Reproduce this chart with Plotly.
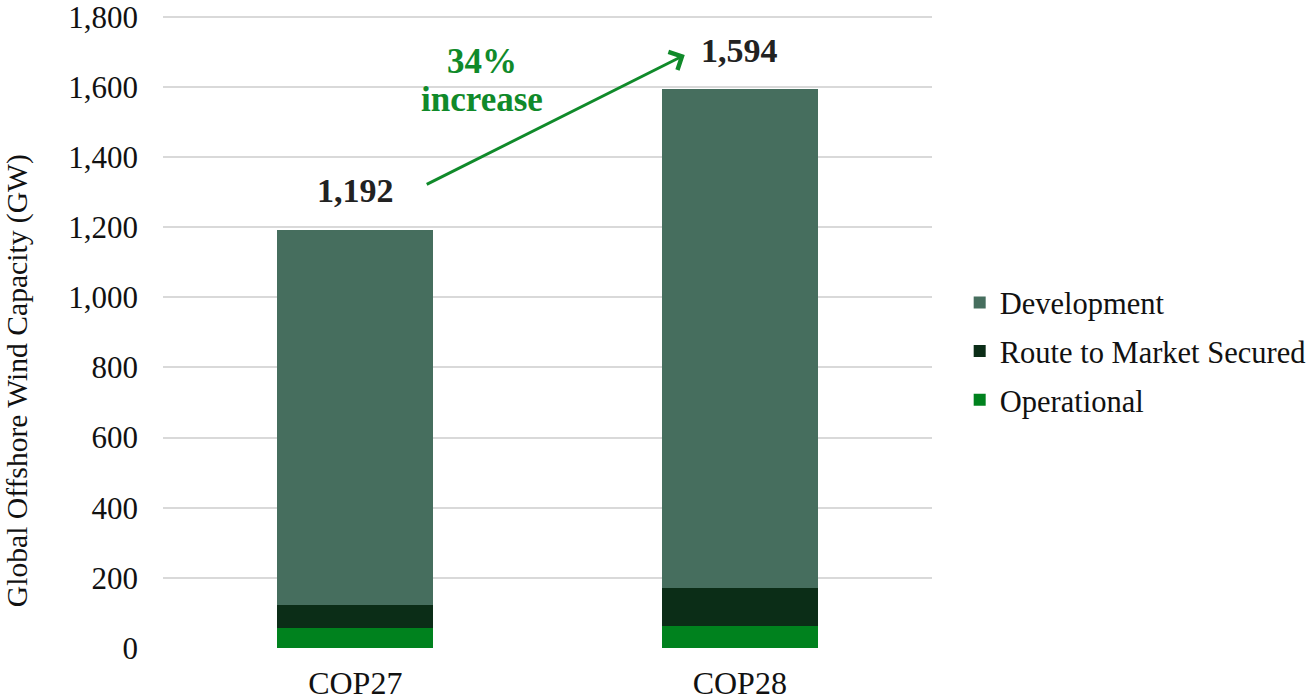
import plotly.graph_objects as go

categories = ["COP27", "COP28"]
operational = [57, 62]
route_to_market = [66, 110]
development = [1069, 1422]
totals = [1192, 1594]
total_labels = ["1,192", "1,594"]
y_ticks = list(range(0, 1801, 200))

series = [
    ("Operational", operational, "#00821E", 3),
    ("Route to Market Secured", route_to_market, "#0B2D17", 2),
    ("Development", development, "#466E5E", 1),
]

FONT = "Liberation Serif"
GREEN = "#108A2A"

fig = go.Figure()
for name, vals, color, rank in series:
    fig.add_trace(go.Bar(
        x=categories, y=vals, name=name, legendgroup=name, legendrank=rank,
        marker=dict(color=color, line=dict(width=0)),
        width=0.405,
    ))

for cat, tot, lab in zip(categories, totals, total_labels):
    fig.add_annotation(x=cat, y=tot, text=f"<b>{lab}</b>", showarrow=False,
                       yshift=39, font=dict(family=FONT, size=34, color="#222222"))

fig.add_annotation(x=0.857, y=1691, ax=0.182, ay=1320, xref="x", yref="y",
                   axref="x", ayref="y", text="", showarrow=True,
                   arrowhead=4, arrowsize=1.3, arrowwidth=3, arrowcolor=GREEN)
fig.add_annotation(x=0.33, y=1671, xref="x", yref="y",
                   text="<b>34%</b>", showarrow=False,
                   font=dict(family=FONT, size=35, color=GREEN))
fig.add_annotation(x=0.33, y=1563, xref="x", yref="y",
                   text="<b>increase</b>", showarrow=False,
                   font=dict(family=FONT, size=35, color=GREEN))

# y-axis title (placed lower than centre, as in the reference)
fig.add_annotation(x=-0.19, y=0.423, xref="paper", yref="paper",
                   text="Global Offshore Wind Capacity (GW)", textangle=-90,
                   showarrow=False, xanchor="center", yanchor="middle",
                   font=dict(family=FONT, size=29.6, color="#111111"))

fig.update_layout(
    width=1306, height=700,
    barmode="stack",
    paper_bgcolor="white", plot_bgcolor="white",
    margin=dict(l=163, r=374, t=15, b=52, autoexpand=False),
    font=dict(family=FONT, size=30, color="#111111"),
    legend=dict(x=1.036, y=0.469, xanchor="left", yanchor="middle",
                traceorder="grouped", font=dict(size=30.5),
                itemsizing="constant", tracegroupgap=6, itemwidth=30),
    bargap=0.595,
    showlegend=True,
)
fig.update_yaxes(range=[0, 1805], tickvals=y_ticks,
                 tickformat=",", gridcolor="#D9D9D9",
                 gridwidth=1.5, zeroline=False, showline=False, ticks="",
                 ticklabelstandoff=24, automargin=False,
                 ticklabeloverflow="allow",
                 tickfont=dict(size=31))
fig.update_xaxes(showline=False, ticks="", showgrid=False, automargin=False,
                 ticklabelstandoff=13, tickfont=dict(size=32))

fig.write_html("out.html",
               config={"displayModeBar": False},
               post_script="document.body.style.margin='0';document.body.style.overflow='hidden';")
